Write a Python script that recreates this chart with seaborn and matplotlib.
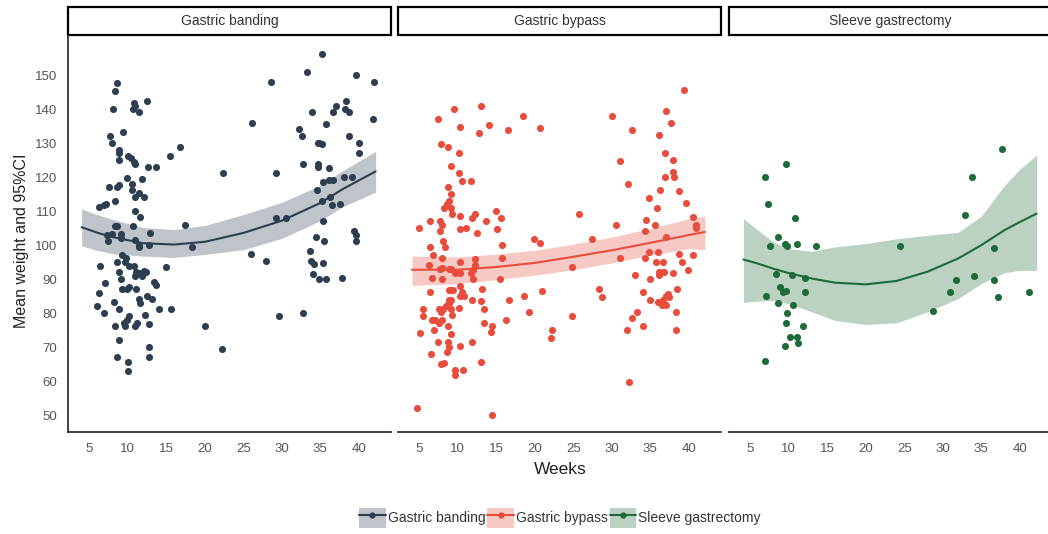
import matplotlib
matplotlib.use("Agg")
import matplotlib.pyplot as plt
from matplotlib.patches import Patch, Rectangle
from matplotlib.lines import Line2D
import numpy as np
import pandas as pd
import seaborn as sns

procedures = ['Gastric banding', 'Gastric bypass', 'Sleeve gastrectomy']
colors = ['#2c3e50', '#e74c3c', '#1e6b3a']

band_weeks = [8.6, 8.4, 8.1, 7.7, 8.0, 9.4, 8.9, 8.9, 8.9, 10.0, 10.4, 10.8, 11.0, 10.8, 10.7,
              10.9, 11.4, 12.5, 12.6, 13.6, 11.9, 15.5, 16.8, 9.9, 7.5, 8.8, 8.6, 10.6, 10.6,
              10.9, 11.5, 12.1, 8.3, 6.3, 6.9, 7.2, 10.9, 11.6, 10.7, 8.3, 8.6, 12.9, 17.4,
              22.4, 26.2, 28.6, 29.2, 29.2, 30.5, 32.2, 32.7, 33.3, 33.9, 32.8, 35.2, 34.7,
              34.9, 35.2, 35.8, 34.7, 34.7, 36.1, 35.3, 34.6, 35.2, 36.3, 36.5, 37.6, 36.2,
              36.7, 38.1, 39.1, 36.7, 37.1, 38.3, 38.2, 38.8, 38.8, 40.0, 40.1, 39.7, 42.0,
              41.9, 35.3, 34.5, 35.5, 39.4, 39.7, 39.7, 33.7, 7.3, 7.4, 8.0, 9.1, 9.1, 10.9,
              11.4, 11.5, 12.8, 18.4, 6.4, 6.3, 7.0, 6.0, 6.9, 8.2, 8.6, 8.8, 9.1, 8.8, 8.4,
              8.8, 8.6, 9.3, 9.8, 9.6, 10.1, 9.3, 9.9, 10.2, 10.2, 9.9, 9.6, 9.5, 10.0, 10.0,
              10.8, 11.1, 10.9, 11.4, 11.1, 11.5, 11.6, 10.9, 11.2, 12.1, 11.9, 12.4, 12.5,
              13.1, 13.4, 13.6, 12.3, 12.8, 12.7, 12.7, 14.1, 15.0, 15.6, 20.0, 22.2, 26.0,
              28.0, 29.7, 32.8, 33.8, 34.2, 34.1, 34.9, 35.8, 35.3, 37.8]
band_weight = [147.8, 145.2, 139.9, 132.1, 130.0, 133.2, 128.0, 127.0, 125.1, 126.3, 125.5, 124.4,
               123.8, 141.9, 139.9, 140.9, 139.2, 142.4, 123.0, 123.0, 119.5, 126.2, 129.0, 119.9,
               117.0, 117.8, 117.0, 118.1, 116.3, 114.2, 115.3, 114.2, 113.1, 111.1, 111.9, 112.2,
               110.2, 108.2, 105.6, 105.6, 105.6, 103.6, 105.8, 121.2, 136.0, 148.0, 121.2, 107.9,
               108.1, 134.1, 132.2, 150.8, 139.2, 124.0, 156.2, 130.0, 130.0, 129.8, 135.6, 123.8,
               123.1, 122.6, 118.7, 116.3, 113.1, 114.2, 111.9, 112.2, 119.2, 119.2, 120.2, 120.2,
               139.3, 140.9, 142.4, 139.9, 139.2, 132.1, 130.0, 127.2, 150.0, 148.0, 137.1, 107.0,
               102.4, 101.2, 104.1, 103.1, 101.1, 98.3, 103.0, 101.1, 103.4, 103.4, 102.1, 101.6,
               100.1, 99.4, 100.1, 99.4, 94.0, 86.1, 89.0, 82.2, 80.2, 83.3, 95.1, 92.1, 90.0,
               81.2, 76.2, 72.0, 67.0, 97.1, 96.3, 95.1, 94.0, 87.2, 87.2, 87.8, 79.1, 77.9, 76.2,
               77.1, 65.6, 63.1, 94.0, 92.2, 91.0, 91.9, 87.2, 84.1, 83.1, 76.4, 77.2, 92.3, 91.1,
               92.2, 85.1, 84.1, 89.1, 88.3, 79.4, 76.9, 70.2, 67.1, 81.2, 93.7, 81.2, 76.2, 69.5,
               97.5, 95.5, 79.1, 80.2, 95.5, 94.4, 91.5, 90.0, 90.0, 94.7, 90.4]

bypass_weeks = [39.4, 37.1, 37.7, 36.2, 36.9, 37.9, 36.9, 37.9, 38.1, 36.3, 38.8, 34.8, 35.9, 39.7,
                34.4, 35.6, 34.3, 40.5, 40.9, 41.0, 37.1, 30.0, 32.7, 31.1, 32.1, 25.8, 30.5, 27.5,
                19.9, 20.7, 7.4, 9.5, 13.0, 10.3, 12.8, 14.0, 16.5, 18.5, 20.7, 7.8, 8.7, 10.1, 9.1,
                10.1, 10.5, 11.7, 8.7, 9.1, 8.8, 8.6, 8.2, 9.1, 9.3, 10.3, 11.8, 12.2, 15.0, 15.6,
                13.6, 15.1, 12.5, 10.3, 11.1, 4.9, 6.4, 7.7, 7.9, 7.7, 8.1, 6.4, 8.3, 15.7, 15.7,
                15.5, 6.8, 6.3, 6.6, 6.4, 5.5, 5.5, 5.1, 6.5, 4.7, 8.0, 8.0, 8.0, 7.7, 8.8, 9.1, 9.7,
                10.3, 10.3, 11.7, 12.3, 12.2, 12.0, 12.0, 10.3, 10.6, 10.8, 10.3, 8.8, 9.1, 9.4, 8.9,
                9.1, 8.8, 8.5, 7.6, 7.8, 8.1, 9.1, 10.2, 9.3, 6.7, 7.1, 8.0, 7.6, 6.9, 8.7, 7.4, 9.1,
                8.7, 8.9, 8.6, 7.8, 8.2, 9.7, 9.7, 10.7, 10.3, 11.8, 11.8, 13.2, 13.0, 13.4, 13.4,
                13.0, 14.5, 14.3, 14.4, 16.2, 16.7, 18.6, 19.3, 21.0, 22.1, 22.3, 24.8, 24.8, 28.3,
                28.8, 31.1, 33.0, 32.0, 32.6, 33.3, 32.3, 34.0, 34.0, 34.3, 34.8, 35.0, 35.0, 35.7,
                36.0, 36.6, 36.2, 36.6, 36.1, 36.8, 36.0, 36.5, 36.7, 37.0, 37.3, 37.5, 37.0, 38.0,
                38.5, 38.3, 38.3, 38.7, 39.1, 39.9, 40.6]
bypass_weight = [145.6, 139.5, 136.0, 132.4, 127.1, 125.0, 120.1, 121.6, 120.1, 116.2, 115.9, 114.0,
                 110.9, 112.3, 107.4, 105.9, 104.2, 108.3, 105.8, 105.0, 102.3, 138.0, 133.8, 124.7,
                 117.9, 109.1, 105.9, 101.7, 101.7, 100.7, 137.1, 139.9, 140.9, 134.8, 133.0, 135.2,
                 133.8, 138.0, 134.5, 129.7, 128.9, 127.1, 123.3, 121.1, 119.0, 119.0, 117.0, 115.2,
                 112.9, 112.1, 110.9, 110.9, 109.1, 108.7, 107.9, 109.1, 110.1, 108.1, 107.0, 104.8,
                 103.6, 104.8, 105.2, 105.2, 107.0, 107.1, 106.0, 104.2, 101.1, 99.5, 99.5, 100.0,
                 96.1, 90.1, 97.1, 94.1, 90.5, 86.2, 81.3, 79.1, 74.2, 68.1, 52.3, 96.2, 93.4, 90.1,
                 93.0, 93.0, 93.0, 91.7, 91.9, 95.0, 91.9, 94.2, 96.0, 92.8, 90.1, 88.1, 86.2, 85.0,
                 85.2, 86.8, 86.8, 86.8, 83.8, 84.0, 83.0, 82.2, 81.3, 80.3, 81.3, 81.3, 81.5, 79.5,
                 78.1, 78.1, 78.1, 77.2, 75.2, 76.2, 71.5, 74.0, 71.5, 70.1, 68.5, 65.2, 65.4, 63.4,
                 61.9, 63.4, 70.3, 84.0, 71.5, 87.2, 83.6, 81.3, 77.0, 65.7, 76.4, 74.6, 50.2, 78.1,
                 84.0, 85.2, 80.3, 86.6, 72.7, 75.2, 93.6, 79.1, 87.2, 84.8, 96.1, 91.2, 75.2, 78.7,
                 80.3, 59.7, 86.2, 76.3, 96.1, 98.1, 90.1, 84.0, 95.0, 98.0, 95.0, 92.1, 92.1, 91.3,
                 92.1, 83.2, 82.5, 84.0, 85.0, 85.8, 84.8, 82.3, 91.9, 87.0, 80.3, 75.0, 97.5, 95.0,
                 92.8, 97.1]

sleeve_weeks = [6.9, 7.3, 9.6, 7.5, 8.6, 9.5, 9.8, 10.8, 11.1, 13.5, 8.3, 10.4, 12.1, 8.8, 9.2, 9.7,
                7.1, 12.1, 8.6, 10.6, 9.8, 9.6, 11.8, 10.1, 11.1, 11.2, 9.5, 6.9, 24.5, 28.7, 31.0,
                31.7, 32.9, 33.8, 34.1, 36.6, 36.6, 37.2, 37.7, 41.2]
sleeve_weight = [120.1, 112.1, 124.0, 99.9, 102.4, 100.3, 99.9, 108.1, 100.3, 99.9, 91.5, 91.2, 90.5,
                 87.7, 86.2, 86.6, 85.2, 86.2, 83.0, 82.3, 80.2, 77.0, 76.4, 73.1, 73.1, 71.4, 70.3,
                 66.1, 99.9, 80.6, 86.2, 89.7, 108.8, 120.1, 91.1, 99.3, 89.7, 84.8, 128.2, 86.2]

# fitted mean and 95% CI
band_fit_weeks = [4.0, 6, 8, 12, 16, 20, 25, 30, 35, 38, 42.2]
band_fit_mean = [105.3, 103.7, 102.4, 100.6, 100.2, 101.0, 103.6, 107.2, 112.4, 116.6, 121.7]
band_fit_lo = [99.8, 98.5, 97.5, 96.8, 96.4, 97.3, 98.7, 102.0, 107.2, 111.4, 115.6]
band_fit_hi = [110.7, 109.0, 107.6, 105.2, 104.6, 105.8, 109.0, 112.6, 117.6, 122.0, 127.6]

bypass_fit_weeks = [4.05, 10, 15, 20, 25, 30, 35, 40, 42.1]
bypass_fit_mean = [92.8, 92.8, 93.6, 94.8, 96.6, 98.5, 100.7, 103.0, 103.9]
bypass_fit_lo = [88.2, 88.7, 89.9, 91.2, 92.8, 94.8, 97.1, 99.0, 98.7]
bypass_fit_hi = [96.8, 96.6, 97.4, 98.5, 100.3, 102.4, 104.9, 107.8, 108.5]

sleeve_fit_weeks = [4.1, 6, 8, 10, 13, 16, 20, 24, 28, 32, 35, 38, 40, 42.2]
sleeve_fit_mean = [95.8, 94.6, 93.1, 91.8, 90.2, 89.0, 88.5, 89.5, 92.2, 96.1, 100.0, 104.4, 106.8, 109.3]
sleeve_fit_lo = [83.2, 83.6, 83.8, 82.8, 80.4, 77.9, 76.7, 77.2, 80.4, 84.3, 88.7, 91.9, 92.6, 92.6]
sleeve_fit_hi = [107.8, 104.4, 101.0, 99.0, 98.2, 99.5, 100.5, 101.9, 102.9, 103.8, 108.5, 117.5, 122.3, 126.5]

x_ticks = [5, 10, 15, 20, 25, 30, 35, 40]
y_ticks = [50, 60, 70, 80, 90, 100, 110, 120, 130, 140, 150]

points = pd.concat([
    pd.DataFrame({'Procedure': procedures[0], 'Weeks': band_weeks, 'Weight': band_weight}),
    pd.DataFrame({'Procedure': procedures[1], 'Weeks': bypass_weeks, 'Weight': bypass_weight}),
    pd.DataFrame({'Procedure': procedures[2], 'Weeks': sleeve_weeks, 'Weight': sleeve_weight}),
])
fits = pd.concat([
    pd.DataFrame({'Procedure': procedures[0], 'Weeks': band_fit_weeks, 'mean': band_fit_mean,
                  'lo': band_fit_lo, 'hi': band_fit_hi}),
    pd.DataFrame({'Procedure': procedures[1], 'Weeks': bypass_fit_weeks, 'mean': bypass_fit_mean,
                  'lo': bypass_fit_lo, 'hi': bypass_fit_hi}),
    pd.DataFrame({'Procedure': procedures[2], 'Weeks': sleeve_fit_weeks, 'mean': sleeve_fit_mean,
                  'lo': sleeve_fit_lo, 'hi': sleeve_fit_hi}),
])

sns.set_style('white')
plt.rcParams['font.family'] = ['Liberation Sans', 'DejaVu Sans']

W, H = 1048, 534
fig = plt.figure(figsize=(W / 100, H / 100), dpi=100)

lefts = [68, 398, 729]
pw = 323
top, bottom = 36, 432

for i, (proc, col) in enumerate(zip(procedures, colors)):
    ax = fig.add_axes([lefts[i] / W, 1 - bottom / H, pw / W, (bottom - top) / H])
    sub = points[points['Procedure'] == proc]
    fsub = fits[fits['Procedure'] == proc]

    ax.fill_between(fsub['Weeks'], fsub['lo'], fsub['hi'], color=col, alpha=0.3, lw=0, zorder=1)
    sns.lineplot(data=fsub, x='Weeks', y='mean', color=col, lw=1.5, ax=ax, zorder=3)
    sns.scatterplot(data=sub, x='Weeks', y='Weight', color=col, s=26, linewidth=0, ax=ax,
                    legend=False, zorder=2)

    ax.set_xlim(2.23, 44.2)
    ax.set_ylim(45.1, 161.5)
    ax.set_xticks(x_ticks)
    ax.set_yticks(y_ticks)
    ax.set_xlabel('')
    ax.set_ylabel('')
    ax.tick_params(axis='both', length=0, labelsize=9.5, labelcolor='#555555')
    ax.tick_params(axis='x', pad=8)
    ax.tick_params(axis='y', pad=8)
    for s in ['top', 'right']:
        ax.spines[s].set_visible(False)
    ax.spines['bottom'].set_color('#333333')
    ax.spines['bottom'].set_linewidth(1.3)
    if i == 0:
        ax.spines['left'].set_color('#333333')
        ax.spines['left'].set_linewidth(1.3)
    else:
        ax.spines['left'].set_visible(False)
        ax.set_yticklabels([])

    # facet strip
    sh = (bottom - top)
    ax.add_patch(Rectangle((0, 1 + 1 / sh), 1, 28 / sh, transform=ax.transAxes, clip_on=False,
                           facecolor='white', edgecolor='black', lw=1.6))
    ax.text(0.5, 1 + 15 / sh, proc, transform=ax.transAxes, ha='center', va='center',
            fontsize=10, color='#333333')

fig.text(22 / W, 1 - 241 / H, 'Mean weight and 95%CI', rotation=90, ha='center', va='center',
         fontsize=11.5, color='#222222')
fig.text(560 / W, 1 - 469 / H, 'Weeks', ha='center', va='center', fontsize=12.5, color='#222222')

handles = [(Patch(facecolor=c, alpha=0.3, edgecolor='none'),
            Line2D([], [], color=c, lw=1.5, marker='o', ms=3.5)) for c in colors]
fig.legend(handles, procedures, loc='center', bbox_to_anchor=(560 / W, 1 - 518 / H), ncol=3,
           frameon=False, fontsize=10, handlelength=1.9, handleheight=1.8, handletextpad=0.15,
           columnspacing=0.15, labelcolor='#333333')

plt.savefig('out.png', dpi=100)
